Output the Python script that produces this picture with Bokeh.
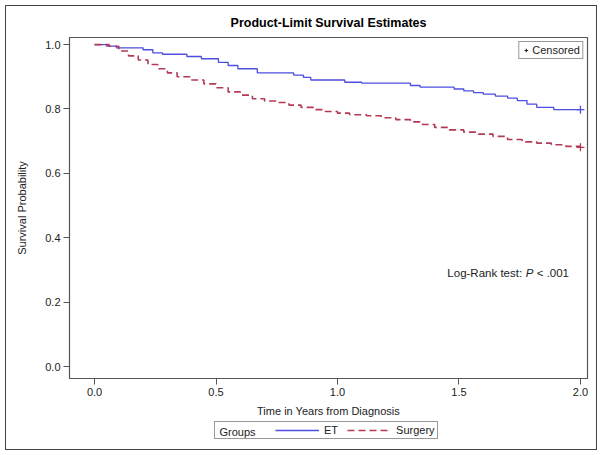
import math
from bokeh.plotting import figure
from bokeh.layouts import column
from bokeh.models import Range1d, Legend, LegendItem, Label, FixedTicker
from bokeh.embed import file_html
from bokeh.resources import INLINE

# ---- data ----
et_time = [0.0, 0.05, 0.09, 0.20, 0.24, 0.28, 0.38, 0.44, 0.51, 0.55, 0.59,
           0.67, 0.82, 0.86, 0.89, 1.03, 1.10, 1.30, 1.34, 1.48, 1.52, 1.56,
           1.60, 1.65, 1.70, 1.74, 1.78, 1.82, 1.89, 2.0]
et_surv = [1.0, 0.995, 0.99, 0.984, 0.974, 0.97, 0.963, 0.956, 0.945, 0.935, 0.925,
           0.912, 0.905, 0.898, 0.89, 0.883, 0.880, 0.873, 0.868, 0.862, 0.856, 0.851,
           0.846, 0.84, 0.834, 0.826, 0.815, 0.805, 0.798, 0.798]

sur_time = [0.0, 0.06, 0.10, 0.14, 0.18, 0.22, 0.26, 0.30, 0.34, 0.40, 0.45, 0.50,
            0.55, 0.60, 0.65, 0.70, 0.75, 0.80, 0.85, 0.90, 0.95, 1.00, 1.05, 1.12,
            1.18, 1.24, 1.30, 1.35, 1.40, 1.46, 1.52, 1.58, 1.64, 1.70, 1.76, 1.82,
            1.88, 1.94, 2.0]
sur_surv = [1.0, 0.995, 0.98, 0.965, 0.952, 0.938, 0.925, 0.912, 0.900, 0.890, 0.878, 0.866,
            0.853, 0.843, 0.832, 0.825, 0.820, 0.812, 0.805, 0.798, 0.792, 0.787, 0.782, 0.779,
            0.773, 0.767, 0.760, 0.752, 0.743, 0.735, 0.728, 0.722, 0.715, 0.705, 0.698, 0.694,
            0.689, 0.684, 0.681]

cens_et_time = [2.0]
cens_et_surv = [0.798]
cens_sur_time = [2.0]
cens_sur_surv = [0.681]

x_ticks = [0.0, 0.5, 1.0, 1.5, 2.0]
y_ticks = [0.0, 0.2, 0.4, 0.6, 0.8, 1.0]
group_names = ["ET", "Surgery"]

FONT = "Liberation Sans"
BLUE = "#4e4ee0"
RED = "#b43a55"
W = 590
FRAME_W = 518

p = figure(width=W, height=414, output_backend="svg", toolbar_location=None,
           x_range=Range1d(-0.103, 2.029), y_range=Range1d(-0.037, 1.022),
           title="Product-Limit Survival Estimates",
           min_border_left=63, min_border_right=9, min_border_top=31, min_border_bottom=42)

p.title.align = "center"
p.title.text_font = FONT
p.title.text_font_size = "12.5px"
p.title.text_font_style = "bold"
p.title.text_color = "black"
p.title.standoff = 15

p.outline_line_color = "#555555"
p.outline_line_width = 1.2
p.xgrid.visible = False
p.ygrid.visible = False

for ax in (p.xaxis[0], p.yaxis[0]):
    ax.axis_line_color = "#555555"
    ax.major_tick_line_color = "#555555"
    ax.major_tick_out = 6
    ax.major_tick_in = 0
    ax.minor_tick_line_color = None
    ax.major_label_text_font = FONT
    ax.major_label_text_font_size = "11px"
    ax.major_label_text_color = "#222222"
    ax.axis_label_text_font = FONT
    ax.axis_label_text_font_size = "11px"
    ax.axis_label_text_font_style = "normal"
    ax.axis_label_text_color = "#222222"

p.xaxis.ticker = FixedTicker(ticks=x_ticks)
p.yaxis.ticker = FixedTicker(ticks=y_ticks)
p.xaxis.major_label_overrides = {t: f"{t:.1f}" for t in x_ticks}
p.yaxis.major_label_overrides = {t: f"{t:.1f}" for t in y_ticks}
p.xaxis.axis_label = "Time in Years from Diagnosis"
p.yaxis.axis_label = "Survival Probability"
p.xaxis.major_label_standoff = 3
p.xaxis.axis_label_standoff = 6
p.yaxis.major_label_standoff = 3
p.yaxis.axis_label_standoff = 14

p.step(et_time, et_surv, mode="after", line_color=BLUE, line_width=1.3)
p.step(sur_time, sur_surv, mode="after", line_color=RED, line_width=1.6, line_dash="7 4")
p.scatter(cens_et_time, cens_et_surv, marker="cross", size=8, line_color=BLUE, line_width=1.3)
p.scatter(cens_sur_time, cens_sur_surv, marker="cross", size=8, line_color=RED, line_width=1.3)
r_cens = p.scatter([math.nan], [math.nan], marker="cross", size=8, line_color="#222222",
                   line_width=1.1)

# Censored legend inside
leg_c = Legend(items=[LegendItem(label="Censored", renderers=[r_cens])],
               location="top_right", border_line_color="#333333", border_line_width=1.2,
               padding=2, margin=4, glyph_width=9, glyph_height=10, label_height=10,
               label_standoff=2, label_text_font=FONT, label_text_font_size="11px",
               label_text_color="#222222", spacing=0)
p.add_layout(leg_c)

# Log-rank annotation
common = dict(text_font=FONT, text_font_size="11.5px", text_color="#222222",
              text_baseline="middle")
p.add_layout(Label(x=1.76, y=0.29, text="Log-Rank test:", text_align="right", **common))
p.add_layout(Label(x=1.775, y=0.29, text="P", text_align="left", text_font_style="italic",
                   **common))
p.add_layout(Label(x=1.82, y=0.29, text="<  .001", text_align="left", **common))

# ---- Groups legend strip below the axis title (frame aligned with the plot above) ----
lg = figure(width=W, height=29, output_backend="svg", toolbar_location=None,
            x_range=Range1d(0, FRAME_W), y_range=Range1d(0, 29),
            min_border=0, min_border_left=0, min_border_right=0,
            min_border_top=0, min_border_bottom=0)
lg.axis.visible = False
lg.grid.visible = False
lg.outline_line_color = None
r_blank = lg.line([math.nan], [math.nan], line_alpha=0)
r_et = lg.line([math.nan], [math.nan], line_color=BLUE, line_width=1.3)
r_sur = lg.line([math.nan], [math.nan], line_color=RED, line_width=1.6, line_dash="7 4")
leg_g = Legend(items=[LegendItem(label="", renderers=[r_blank]),
                      LegendItem(label=group_names[0], renderers=[r_et]),
                      LegendItem(label=group_names[1], renderers=[r_sur])],
               orientation="horizontal", location=(145, 10),
               border_line_color="#333333", border_line_width=1.2,
               background_fill_alpha=0,
               padding=2, margin=0, glyph_width=44, glyph_height=10, label_height=11,
               label_width=0, label_standoff=5, label_text_font=FONT,
               label_text_font_size="11px", label_text_color="#222222", spacing=9)
lg.add_layout(leg_g)
lg.add_layout(Label(x=150, y=17.5, text="Groups", text_align="left", text_baseline="middle",
                    text_font=FONT, text_font_size="11px", text_color="#222222"))

page = column(p, lg, spacing=0)
page.styles = {"margin": "5px", "border": "1px solid #444444"}

open("out.html", "w").write(file_html(page, INLINE))
